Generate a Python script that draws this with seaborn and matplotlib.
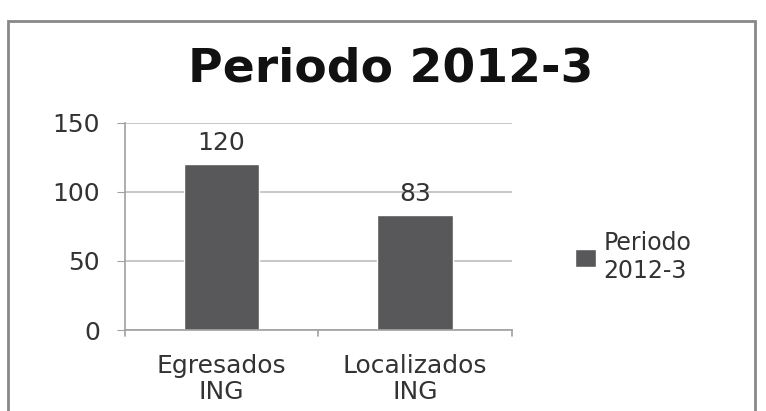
import numpy as np
import matplotlib
matplotlib.use('Agg')
import matplotlib.pyplot as plt
import seaborn as sns
import pandas as pd
from matplotlib.patches import Rectangle, Patch

categorias = ['Egresados\nING', 'Localizados\nING']
valores = [120, 83]
serie = 'Periodo\n2012-3'
titulo = 'Periodo 2012-3'
y_ticks = [0, 50, 100, 150]

sns.set_style('white')
plt.rcParams['font.family'] = ['DejaVu Sans']

data = pd.DataFrame({'categoria': categorias, 'valor': valores})

fig = plt.figure(figsize=(7.66, 4.11), dpi=100)
ax = fig.add_axes([0.163, 0.197, 0.505, 0.504])

sns.barplot(x='categoria', y='valor', data=data, color='#58585a',
            saturation=1, width=0.39, ax=ax)

ax.set_ylim(0, 150)
ax.set_xlim(-0.5, 1.5)
ax.set_yticks(y_ticks)
ax.set_xlabel('')
ax.set_ylabel('')
ax.yaxis.grid(True, color='#b8b8b8', linewidth=1.1)
ax.set_axisbelow(True)
for s in ['top', 'right']:
    ax.spines[s].set_visible(False)
ax.spines['left'].set_color('#a0a0a0')
ax.spines['bottom'].set_color('#a0a0a0')
ax.spines['left'].set_linewidth(1.2)
ax.spines['bottom'].set_linewidth(1.2)

ax.tick_params(axis='y', left=True, length=6, color='#a0a0a0', labelsize=18,
               labelcolor='#333333', pad=12)
ax.set_xticks([0, 1])
ax.set_xticklabels(categorias)
ax.tick_params(axis='x', bottom=False, labelsize=18, labelcolor='#333333', pad=14)
for xb in [-0.5, 0.5, 1.5]:
    ax.plot([xb, xb], [0, -4], color='#a0a0a0', lw=1.2, clip_on=False)
for lbl in ax.get_xticklabels():
    lbl.set_linespacing(1.1)

for i, v in enumerate(valores):
    ax.text(i, v + 7, str(v), ha='center', va='bottom', fontsize=18, color='#333333')

fig.text(0.51, 0.832, titulo, ha='center', va='center', fontsize=34,
         fontweight='bold', color='#111111')

handles = [Patch(facecolor='#58585a', label=serie)]
fig.legend(handles=handles, loc='center left', bbox_to_anchor=(0.723, 0.375),
           frameon=False, fontsize=17, handlelength=0.9, handleheight=0.8,
           handletextpad=0.3, labelcolor='#333333', labelspacing=0.2)

fig.add_artist(Rectangle((0.011, -0.05), 0.975, 1.0, transform=fig.transFigure,
                         fill=False, edgecolor='#888888', linewidth=2))

fig.savefig('out.png', dpi=100)
